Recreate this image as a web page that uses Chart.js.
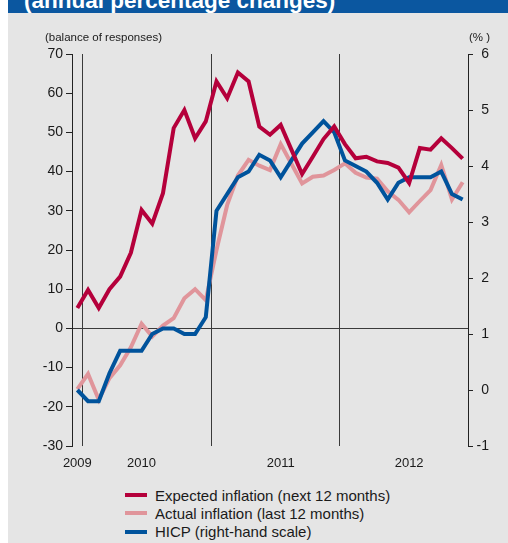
<!DOCTYPE html>
<html>
<head>
<meta charset="utf-8">
<title>Inflation perceptions and expectations</title>
<script src="https://cdn.jsdelivr.net/npm/chart.js@4.4.0/dist/chart.umd.min.js"></script>
<style>
  body { margin: 0; background: #fff; font-family: "Liberation Sans", Arial, sans-serif; }
  #panel { position: absolute; left: 8px; top: 0; width: 500px; height: 543px; background: #e5e5e5; }
  #band { position: absolute; left: 8px; top: 0; width: 500px; height: 13px; background: #0b57a0; overflow: hidden; }
  #band span { position: absolute; left: 16px; top: -12px; color: #fff; font-weight: bold; font-size: 22.5px; white-space: nowrap; }
  #chartBox { position: absolute; left: 0; top: 0; width: 508px; height: 480px; }
  #legend { position: absolute; left: 125px; top: 486px; font-size: 15px; color: #1a1a1a; }
  #legend .item { height: 18.3px; display: flex; align-items: center; white-space: nowrap; }
  #legend .swatch { width: 22px; height: 4px; margin-right: 8px; }
</style>
</head>
<body>
<div id="panel"></div>
<div id="band"><span>(annual percentage changes)</span></div>
<div id="chartBox"><canvas id="inflationChart" width="508" height="480"></canvas></div>
<div id="legend"></div>

<script>
// monthly observations, Dec 2009 - Dec 2012
const months = [
  '2009-12',
  '2010-01', '2010-02', '2010-03', '2010-04', '2010-05', '2010-06',
  '2010-07', '2010-08', '2010-09', '2010-10', '2010-11', '2010-12',
  '2011-01', '2011-02', '2011-03', '2011-04', '2011-05', '2011-06',
  '2011-07', '2011-08', '2011-09', '2011-10', '2011-11', '2011-12',
  '2012-01', '2012-02', '2012-03', '2012-04', '2012-05', '2012-06',
  '2012-07', '2012-08', '2012-09', '2012-10', '2012-11', '2012-12'
];

// balance of responses (left scale)
const expectedInflation = [
  5.2,
  9.8, 5.2, 10.0, 13.2, 19.3, 30.2, 26.7, 34.5, 51.1, 55.7, 48.5, 52.8,
  63.0, 58.7, 65.3, 63.0, 51.5, 49.4, 51.9, 45.6, 39.4, 43.8, 48.3, 51.5,
  47.0, 43.4, 43.8, 42.6, 42.2, 41.0, 37.1, 46.0, 45.6, 48.5, 46.0, 43.3
];
const actualInflation = [
  -15.5,
  -11.6, -18.2, -12.7, -9.4, -4.8, 1.2, -2.1, 0.7, 2.6, 7.7, 10.0, 7.2,
  20.0, 31.5, 39.0, 43.0, 41.5, 40.4, 47.0, 42.0, 37.0, 38.7, 39.0, 40.4,
  42.1, 39.7, 38.5, 38.2, 35.0, 32.8, 29.6, 32.5, 35.3, 41.7, 32.9, 37.3
];

// HICP, % (right scale)
const hicp = [
  0.0,
  -0.2, -0.2, 0.3, 0.7, 0.7, 0.7, 1.0, 1.1, 1.1, 1.0, 1.0, 1.3,
  3.2, 3.5, 3.8, 3.9, 4.2, 4.1, 3.8, 4.1, 4.4, 4.6, 4.8, 4.6,
  4.1, 4.0, 3.9, 3.7, 3.4, 3.7, 3.8, 3.8, 3.8, 3.9, 3.5, 3.4
];

const seriesNames = [
  'Expected inflation (next 12 months)',
  'Actual inflation (last 12 months)',
  'HICP (right-hand scale)'
];
const seriesColors = ['#b5003b', '#e0959b', '#00539c'];

// year captions on the time axis and where they sit
const yearLabels = ['2009', '2010', '2011', '2012'];
const yearLabelAt = [0, 6, 19, 31];
// first month of each year -> vertical separator
const yearStarts = [1, 13, 25];

const leftUnit = '(balance of responses)';
const rightUnit = '(% )';

const textColor = '#1a1a1a';
const axisColor = '#222';
const fontFamily = '"Liberation Sans", Arial, sans-serif';

Chart.defaults.font.family = fontFamily;
Chart.defaults.color = textColor;

// small unit captions above both value axes
const unitLabels = {
  id: 'unitLabels',
  afterDraw(chart) {
    const ctx = chart.ctx;
    const y = chart.chartArea.top - 16;
    ctx.save();
    ctx.font = '11.5px ' + fontFamily;
    ctx.fillStyle = textColor;
    ctx.textBaseline = 'middle';
    ctx.textAlign = 'left';
    ctx.fillText(leftUnit, 45, y);
    ctx.textAlign = 'right';
    ctx.fillText(rightUnit, chart.scales.y1.right + 1, y);
    ctx.restore();
  }
};

function lineSet(i, data, axis, order) {
  return {
    label: seriesNames[i],
    data: data,
    yAxisID: axis,
    order: order,
    borderColor: seriesColors[i],
    backgroundColor: seriesColors[i],
    borderWidth: 4,
    pointRadius: 0,
    tension: 0,
    borderJoinStyle: 'miter',
    fill: false
  };
}

const chart = new Chart(document.getElementById('inflationChart'), {
  type: 'line',
  data: {
    labels: months,
    datasets: [
      lineSet(0, expectedInflation, 'y', 0),
      lineSet(1, actualInflation, 'y', 2),
      lineSet(2, hicp, 'y1', 1)
    ]
  },
  options: {
    responsive: false,
    animation: false,
    devicePixelRatio: 1,
    layout: { padding: { top: 54, right: 19, bottom: 0, left: 0 } },
    plugins: {
      legend: { display: false },
      tooltip: { enabled: false }
    },
    scales: {
      x: {
        type: 'category',
        offset: true,
        border: { display: false },
        grid: {
          offset: true,
          drawTicks: false,
          lineWidth: 1,
          color: ctx => yearStarts.includes(ctx.index) ? '#3a3a3a' : 'transparent'
        },
        ticks: {
          autoSkip: false,
          maxRotation: 0,
          padding: 10,
          font: { size: 13 },
          callback: (value, i) => {
            const k = yearLabelAt.indexOf(i);
            return k >= 0 ? yearLabels[k] : '';
          }
        },
        afterFit: scale => { scale.height = 34; }
      },
      y: {
        position: 'left',
        min: -30,
        max: 70,
        border: { color: axisColor, width: 1 },
        grid: {
          tickLength: 6,
          tickColor: axisColor,
          color: ctx => (ctx.tick && ctx.tick.value === 0) ? '#3a3a3a' : 'transparent'
        },
        ticks: { stepSize: 10, padding: 3, font: { size: 14 } },
        afterFit: scale => { scale.width = 72; }
      },
      y1: {
        position: 'right',
        min: -1,
        max: 6,
        border: { color: axisColor, width: 1 },
        grid: { drawOnChartArea: false, tickLength: 5, tickColor: axisColor },
        ticks: { stepSize: 1, crossAlign: 'far', font: { size: 14 } },
        afterFit: scale => { scale.width = 21; }
      }
    }
  },
  plugins: [unitLabels]
});

// legend, one series per row
const legendBox = document.getElementById('legend');
chart.data.datasets.forEach(ds => {
  const row = document.createElement('div');
  row.className = 'item';
  const sw = document.createElement('span');
  sw.className = 'swatch';
  sw.style.background = ds.borderColor;
  const txt = document.createElement('span');
  txt.textContent = ds.label;
  row.appendChild(sw);
  row.appendChild(txt);
  legendBox.appendChild(row);
});
</script>
</body>
</html>
